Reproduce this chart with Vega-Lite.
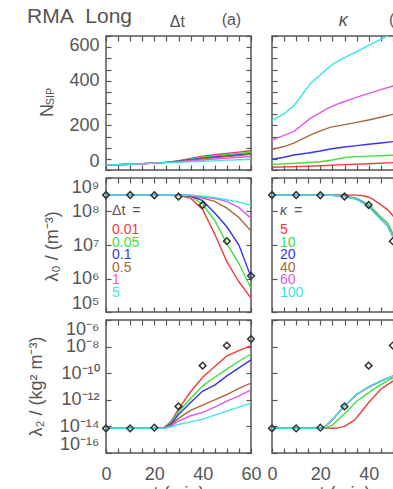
{
  "$schema": "https://vega.github.io/schema/vega-lite/v6.json",
  "background": "white",
  "padding": {"left": 26, "top": 4, "right": 0, "bottom": 0},
  "config": {
    "view": {"stroke": "#555", "strokeWidth": 1.5},
    "axis": {
      "labelFont": "Liberation Sans", "labelFontSize": 18, "labelColor": "#555",
      "titleFont": "Liberation Sans", "titleFontSize": 18, "titleColor": "#555", "titleFontWeight": "normal",
      "domain": false, "grid": false, "tickColor": "#555", "tickSize": -5, "tickWidth": 1.2,
      "labelOverlap": false
    },
    "axisX": {"labelFlush": false, "labelPadding": 17},
    "axisY": {"labelFlush": true, "labelFlushOffset": 0, "labelPadding": 12},
    "text": {"font": "Liberation Sans", "color": "#555"},
    "line": {"strokeWidth": 1.4}
  },
  "datasets": {
    "n_dt": [
      {"k":1,"t":0,"v":22},{"k":1,"t":10,"v":26},{"k":1,"t":20,"v":31},{"k":1,"t":25,"v":34},{"k":1,"t":30,"v":42},{"k":1,"t":35,"v":52},{"k":1,"t":40,"v":62},{"k":1,"t":45,"v":68},{"k":1,"t":50,"v":74},{"k":1,"t":55,"v":80},{"k":1,"t":60,"v":86},
      {"k":2,"t":0,"v":22},{"k":2,"t":10,"v":26},{"k":2,"t":20,"v":31},{"k":2,"t":25,"v":34},{"k":2,"t":30,"v":40},{"k":2,"t":35,"v":48},{"k":2,"t":40,"v":57},{"k":2,"t":45,"v":63},{"k":2,"t":50,"v":69},{"k":2,"t":55,"v":74},{"k":2,"t":60,"v":79},
      {"k":3,"t":0,"v":22},{"k":3,"t":10,"v":26},{"k":3,"t":20,"v":31},{"k":3,"t":25,"v":34},{"k":3,"t":30,"v":39},{"k":3,"t":35,"v":46},{"k":3,"t":40,"v":53},{"k":3,"t":45,"v":58},{"k":3,"t":50,"v":63},{"k":3,"t":55,"v":68},{"k":3,"t":60,"v":73},
      {"k":4,"t":0,"v":22},{"k":4,"t":10,"v":26},{"k":4,"t":20,"v":31},{"k":4,"t":25,"v":34},{"k":4,"t":30,"v":38},{"k":4,"t":35,"v":44},{"k":4,"t":40,"v":50},{"k":4,"t":45,"v":55},{"k":4,"t":50,"v":60},{"k":4,"t":55,"v":65},{"k":4,"t":60,"v":70},
      {"k":5,"t":0,"v":22},{"k":5,"t":10,"v":26},{"k":5,"t":20,"v":31},{"k":5,"t":25,"v":34},{"k":5,"t":30,"v":36},{"k":5,"t":35,"v":41},{"k":5,"t":40,"v":45},{"k":5,"t":45,"v":49},{"k":5,"t":50,"v":53},{"k":5,"t":55,"v":57},{"k":5,"t":60,"v":60},
      {"k":6,"t":0,"v":22},{"k":6,"t":10,"v":26},{"k":6,"t":20,"v":31},{"k":6,"t":25,"v":33},{"k":6,"t":30,"v":34},{"k":6,"t":35,"v":37},{"k":6,"t":40,"v":39},{"k":6,"t":45,"v":41},{"k":6,"t":50,"v":44},{"k":6,"t":55,"v":46},{"k":6,"t":60,"v":48}
    ],
    "n_k": [
      {"k":1,"t":0,"v":12},{"k":1,"t":10,"v":15},{"k":1,"t":20,"v":19},{"k":1,"t":30,"v":24},{"k":1,"t":40,"v":28},{"k":1,"t":50,"v":33},{"k":1,"t":60,"v":37},
      {"k":2,"t":0,"v":25},{"k":2,"t":10,"v":30},{"k":2,"t":20,"v":37},{"k":2,"t":25,"v":45},{"k":2,"t":30,"v":56},{"k":2,"t":35,"v":60},{"k":2,"t":40,"v":62},{"k":2,"t":45,"v":64},{"k":2,"t":50,"v":66},{"k":2,"t":60,"v":70},
      {"k":3,"t":0,"v":48},{"k":3,"t":5,"v":57},{"k":3,"t":9,"v":67},{"k":3,"t":15,"v":76},{"k":3,"t":20,"v":85},{"k":3,"t":24,"v":94},{"k":3,"t":30,"v":103},{"k":3,"t":35,"v":109},{"k":3,"t":40,"v":115},{"k":3,"t":45,"v":121},{"k":3,"t":50,"v":127},{"k":3,"t":55,"v":133},{"k":3,"t":60,"v":139},
      {"k":4,"t":0,"v":93},{"k":4,"t":5,"v":105},{"k":4,"t":9,"v":120},{"k":4,"t":16,"v":157},{"k":4,"t":20,"v":175},{"k":4,"t":24,"v":191},{"k":4,"t":30,"v":203},{"k":4,"t":35,"v":213},{"k":4,"t":40,"v":224},{"k":4,"t":45,"v":236},{"k":4,"t":50,"v":249},{"k":4,"t":55,"v":262},{"k":4,"t":60,"v":274},
      {"k":5,"t":0,"v":134},{"k":5,"t":5,"v":155},{"k":5,"t":9,"v":172},{"k":5,"t":16,"v":232},{"k":5,"t":20,"v":257},{"k":5,"t":23,"v":276},{"k":5,"t":28,"v":299},{"k":5,"t":35,"v":325},{"k":5,"t":40,"v":343},{"k":5,"t":45,"v":360},{"k":5,"t":50,"v":376},{"k":5,"t":55,"v":392},{"k":5,"t":60,"v":408},
      {"k":6,"t":0,"v":221},{"k":6,"t":5,"v":252},{"k":6,"t":9,"v":287},{"k":6,"t":16,"v":388},{"k":6,"t":20,"v":425},{"k":6,"t":23,"v":455},{"k":6,"t":26,"v":480},{"k":6,"t":30,"v":503},{"k":6,"t":35,"v":530},{"k":6,"t":40,"v":558},{"k":6,"t":45,"v":585},{"k":6,"t":48,"v":602},{"k":6,"t":55,"v":640},{"k":6,"t":60,"v":670}
    ],
    "l0_dt": [
      {"k":1,"t":0,"v":3.1e8},{"k":1,"t":10,"v":3.1e8},{"k":1,"t":20,"v":3.1e8},{"k":1,"t":30,"v":3.0e8},{"k":1,"t":35,"v":2.5e8},{"k":1,"t":40,"v":1.15e8},{"k":1,"t":45,"v":2.1e7},{"k":1,"t":50,"v":3.2e6},{"k":1,"t":55,"v":8e5},{"k":1,"t":60,"v":2.6e5},
      {"k":2,"t":0,"v":3.1e8},{"k":2,"t":10,"v":3.1e8},{"k":2,"t":20,"v":3.1e8},{"k":2,"t":30,"v":3.05e8},{"k":2,"t":35,"v":2.8e8},{"k":2,"t":40,"v":1.65e8},{"k":2,"t":45,"v":5.4e7},{"k":2,"t":50,"v":1.1e7},{"k":2,"t":55,"v":2.8e6},{"k":2,"t":60,"v":5.1e5},
      {"k":3,"t":0,"v":3.1e8},{"k":3,"t":10,"v":3.1e8},{"k":3,"t":20,"v":3.1e8},{"k":3,"t":30,"v":3.08e8},{"k":3,"t":35,"v":2.9e8},{"k":3,"t":40,"v":2.1e8},{"k":3,"t":45,"v":9e7},{"k":3,"t":50,"v":3.5e7},{"k":3,"t":55,"v":1e7},{"k":3,"t":60,"v":1.1e6},
      {"k":4,"t":0,"v":3.1e8},{"k":4,"t":10,"v":3.1e8},{"k":4,"t":20,"v":3.1e8},{"k":4,"t":30,"v":3.1e8},{"k":4,"t":35,"v":3.0e8},{"k":4,"t":40,"v":2.5e8},{"k":4,"t":45,"v":2.0e8},{"k":4,"t":50,"v":1.26e8},{"k":4,"t":55,"v":6.6e7},{"k":4,"t":60,"v":2.6e7},
      {"k":5,"t":0,"v":3.1e8},{"k":5,"t":10,"v":3.1e8},{"k":5,"t":20,"v":3.1e8},{"k":5,"t":30,"v":3.1e8},{"k":5,"t":35,"v":3.05e8},{"k":5,"t":40,"v":2.7e8},{"k":5,"t":45,"v":2.45e8},{"k":5,"t":50,"v":2.0e8},{"k":5,"t":55,"v":1.3e8},{"k":5,"t":60,"v":6.3e7},
      {"k":6,"t":0,"v":3.1e8},{"k":6,"t":10,"v":3.1e8},{"k":6,"t":20,"v":3.1e8},{"k":6,"t":30,"v":3.1e8},{"k":6,"t":35,"v":3.08e8},{"k":6,"t":40,"v":2.85e8},{"k":6,"t":45,"v":2.6e8},{"k":6,"t":50,"v":2.25e8},{"k":6,"t":55,"v":1.9e8},{"k":6,"t":60,"v":1.55e8}
    ],
    "l0_k": [
      {"k":1,"t":0,"v":3.1e8},{"k":1,"t":10,"v":3.1e8},{"k":1,"t":20,"v":3.1e8},{"k":1,"t":30,"v":3.1e8},{"k":1,"t":35,"v":3.08e8},{"k":1,"t":38,"v":2.95e8},{"k":1,"t":41,"v":2.5e8},{"k":1,"t":45,"v":1.6e8},{"k":1,"t":48,"v":1.1e8},{"k":1,"t":50,"v":7.5e7},{"k":1,"t":55,"v":1.8e7},{"k":1,"t":60,"v":3.5e6},
      {"k":2,"t":0,"v":3.1e8},{"k":2,"t":10,"v":3.1e8},{"k":2,"t":20,"v":3.1e8},{"k":2,"t":25,"v":3.08e8},{"k":2,"t":30,"v":2.9e8},{"k":2,"t":35,"v":2.5e8},{"k":2,"t":40,"v":1.6e8},{"k":2,"t":45,"v":7e7},{"k":2,"t":48,"v":4.4e7},{"k":2,"t":50,"v":2.2e7},{"k":2,"t":55,"v":3.5e6},{"k":2,"t":60,"v":6e5},
      {"k":3,"t":0,"v":3.1e8},{"k":3,"t":10,"v":3.1e8},{"k":3,"t":20,"v":3.1e8},{"k":3,"t":25,"v":3.05e8},{"k":3,"t":30,"v":2.85e8},{"k":3,"t":35,"v":2.35e8},{"k":3,"t":40,"v":1.45e8},{"k":3,"t":45,"v":6e7},{"k":3,"t":48,"v":3.6e7},{"k":3,"t":50,"v":1.8e7},{"k":3,"t":55,"v":3e6},{"k":3,"t":60,"v":5e5},
      {"k":4,"t":0,"v":3.1e8},{"k":4,"t":10,"v":3.1e8},{"k":4,"t":20,"v":3.1e8},{"k":4,"t":25,"v":3.05e8},{"k":4,"t":30,"v":2.85e8},{"k":4,"t":35,"v":2.35e8},{"k":4,"t":40,"v":1.45e8},{"k":4,"t":45,"v":6e7},{"k":4,"t":48,"v":3.6e7},{"k":4,"t":50,"v":1.8e7},{"k":4,"t":55,"v":3e6},{"k":4,"t":60,"v":5e5},
      {"k":5,"t":0,"v":3.1e8},{"k":5,"t":10,"v":3.1e8},{"k":5,"t":20,"v":3.1e8},{"k":5,"t":25,"v":3.05e8},{"k":5,"t":30,"v":2.85e8},{"k":5,"t":35,"v":2.35e8},{"k":5,"t":40,"v":1.45e8},{"k":5,"t":45,"v":6e7},{"k":5,"t":48,"v":3.6e7},{"k":5,"t":50,"v":1.8e7},{"k":5,"t":55,"v":3e6},{"k":5,"t":60,"v":5e5},
      {"k":6,"t":0,"v":3.1e8},{"k":6,"t":10,"v":3.1e8},{"k":6,"t":20,"v":3.1e8},{"k":6,"t":25,"v":3.04e8},{"k":6,"t":30,"v":2.82e8},{"k":6,"t":35,"v":2.3e8},{"k":6,"t":40,"v":1.4e8},{"k":6,"t":45,"v":5.8e7},{"k":6,"t":48,"v":3.5e7},{"k":6,"t":50,"v":1.75e7},{"k":6,"t":55,"v":2.9e6},{"k":6,"t":60,"v":4.8e5}
    ],
    "ref0": [
      {"t":0,"v":3.1e8},{"t":10,"v":3.1e8},{"t":20,"v":3.05e8},{"t":30,"v":2.8e8},{"t":40,"v":1.56e8},{"t":50,"v":1.3e7},{"t":60,"v":1.2e6}
    ],
    "l2_dt": [
      {"k":1,"t":0,"v":7.1e-15},{"k":1,"t":10,"v":7.1e-15},{"k":1,"t":20,"v":7.1e-15},{"k":1,"t":24,"v":8e-15},{"k":1,"t":27,"v":2.5e-14},{"k":1,"t":30,"v":2.0e-13},{"k":1,"t":35,"v":4.0e-12},{"k":1,"t":40,"v":5.0e-11},{"k":1,"t":45,"v":3.2e-10},{"k":1,"t":50,"v":2.0e-9},{"k":1,"t":55,"v":5.0e-9},{"k":1,"t":60,"v":1.2e-8},
      {"k":2,"t":0,"v":7.1e-15},{"k":2,"t":10,"v":7.1e-15},{"k":2,"t":20,"v":7.1e-15},{"k":2,"t":24,"v":7.6e-15},{"k":2,"t":27,"v":2.0e-14},{"k":2,"t":30,"v":1.26e-13},{"k":2,"t":35,"v":1.26e-12},{"k":2,"t":40,"v":1.12e-11},{"k":2,"t":45,"v":5.0e-11},{"k":2,"t":50,"v":2.0e-10},{"k":2,"t":55,"v":7.9e-10},{"k":2,"t":60,"v":2.75e-9},
      {"k":3,"t":0,"v":7.1e-15},{"k":3,"t":10,"v":7.1e-15},{"k":3,"t":20,"v":7.1e-15},{"k":3,"t":24,"v":7.4e-15},{"k":3,"t":27,"v":1.6e-14},{"k":3,"t":30,"v":7.9e-14},{"k":3,"t":35,"v":6.3e-13},{"k":3,"t":40,"v":4.5e-12},{"k":3,"t":45,"v":1.26e-11},{"k":3,"t":50,"v":6.3e-11},{"k":3,"t":55,"v":2.5e-10},{"k":3,"t":60,"v":1.0e-9},
      {"k":4,"t":0,"v":7.1e-15},{"k":4,"t":10,"v":7.1e-15},{"k":4,"t":20,"v":7.1e-15},{"k":4,"t":24,"v":7.3e-15},{"k":4,"t":27,"v":1.3e-14},{"k":4,"t":30,"v":4.0e-14},{"k":4,"t":35,"v":1.6e-13},{"k":4,"t":40,"v":4.0e-13},{"k":4,"t":45,"v":1.0e-12},{"k":4,"t":50,"v":2.5e-12},{"k":4,"t":55,"v":7.1e-12},{"k":4,"t":60,"v":1.8e-11},
      {"k":5,"t":0,"v":7.1e-15},{"k":5,"t":10,"v":7.1e-15},{"k":5,"t":20,"v":7.1e-15},{"k":5,"t":24,"v":7.2e-15},{"k":5,"t":27,"v":1.1e-14},{"k":5,"t":30,"v":2.5e-14},{"k":5,"t":35,"v":6.3e-14},{"k":5,"t":40,"v":1.12e-13},{"k":5,"t":45,"v":2.8e-13},{"k":5,"t":50,"v":7.9e-13},{"k":5,"t":55,"v":2.0e-12},{"k":5,"t":60,"v":5.5e-12},
      {"k":6,"t":0,"v":7.1e-15},{"k":6,"t":10,"v":7.1e-15},{"k":6,"t":20,"v":7.1e-15},{"k":6,"t":24,"v":7.1e-15},{"k":6,"t":27,"v":9e-15},{"k":6,"t":30,"v":1.4e-14},{"k":6,"t":35,"v":2.2e-14},{"k":6,"t":40,"v":3.5e-14},{"k":6,"t":45,"v":7.1e-14},{"k":6,"t":50,"v":1.4e-13},{"k":6,"t":55,"v":2.8e-13},{"k":6,"t":60,"v":5.5e-13}
    ],
    "l2_k": [
      {"k":1,"t":0,"v":7.1e-15},{"k":1,"t":10,"v":7.1e-15},{"k":1,"t":20,"v":7.1e-15},{"k":1,"t":27,"v":7.5e-15},{"k":1,"t":30,"v":1.0e-14},{"k":1,"t":34,"v":2.8e-14},{"k":1,"t":37,"v":1.26e-13},{"k":1,"t":40,"v":6.3e-13},{"k":1,"t":45,"v":6.3e-12},{"k":1,"t":50,"v":2.5e-11},{"k":1,"t":55,"v":7.1e-11},{"k":1,"t":60,"v":1.6e-10},
      {"k":2,"t":0,"v":7.1e-15},{"k":2,"t":10,"v":7.1e-15},{"k":2,"t":20,"v":7.1e-15},{"k":2,"t":22,"v":7.5e-15},{"k":2,"t":25,"v":1.26e-14},{"k":2,"t":30,"v":8.9e-14},{"k":2,"t":35,"v":7.9e-13},{"k":2,"t":40,"v":3.5e-12},{"k":2,"t":45,"v":1.4e-11},{"k":2,"t":50,"v":4.5e-11},{"k":2,"t":55,"v":1.1e-10},{"k":2,"t":60,"v":2.2e-10},
      {"k":3,"t":0,"v":7.1e-15},{"k":3,"t":10,"v":7.1e-15},{"k":3,"t":20,"v":7.1e-15},{"k":3,"t":22,"v":1.0e-14},{"k":3,"t":25,"v":3.2e-14},{"k":3,"t":30,"v":3.5e-13},{"k":3,"t":35,"v":2.5e-12},{"k":3,"t":40,"v":8.9e-12},{"k":3,"t":45,"v":2.5e-11},{"k":3,"t":50,"v":6.0e-11},{"k":3,"t":55,"v":1.26e-10},{"k":3,"t":60,"v":2.5e-10},
      {"k":4,"t":0,"v":7.1e-15},{"k":4,"t":10,"v":7.1e-15},{"k":4,"t":20,"v":7.1e-15},{"k":4,"t":22,"v":1.0e-14},{"k":4,"t":25,"v":3.2e-14},{"k":4,"t":30,"v":3.5e-13},{"k":4,"t":35,"v":2.5e-12},{"k":4,"t":40,"v":8.9e-12},{"k":4,"t":45,"v":2.5e-11},{"k":4,"t":50,"v":6.0e-11},{"k":4,"t":55,"v":1.26e-10},{"k":4,"t":60,"v":2.5e-10},
      {"k":5,"t":0,"v":7.1e-15},{"k":5,"t":10,"v":7.1e-15},{"k":5,"t":20,"v":7.1e-15},{"k":5,"t":22,"v":1.0e-14},{"k":5,"t":25,"v":3.2e-14},{"k":5,"t":30,"v":3.5e-13},{"k":5,"t":35,"v":2.5e-12},{"k":5,"t":40,"v":8.9e-12},{"k":5,"t":45,"v":2.5e-11},{"k":5,"t":50,"v":6.0e-11},{"k":5,"t":55,"v":1.26e-10},{"k":5,"t":60,"v":2.5e-10},
      {"k":6,"t":0,"v":7.1e-15},{"k":6,"t":10,"v":7.1e-15},{"k":6,"t":20,"v":7.1e-15},{"k":6,"t":22,"v":1.0e-14},{"k":6,"t":25,"v":3.3e-14},{"k":6,"t":30,"v":3.6e-13},{"k":6,"t":35,"v":2.6e-12},{"k":6,"t":40,"v":9.2e-12},{"k":6,"t":45,"v":2.6e-11},{"k":6,"t":50,"v":6.2e-11},{"k":6,"t":55,"v":1.3e-10},{"k":6,"t":60,"v":2.6e-10}
    ],
    "ref2": [
      {"t":0,"v":7.1e-15},{"t":10,"v":7.1e-15},{"t":20,"v":8e-15},{"t":30,"v":3.2e-13},{"t":40,"v":3.7e-10},{"t":50,"v":1.2e-8},{"t":60,"v":3.7e-8}
    ],
    "leg_dt": [
      {"k":1,"label":"0.01"},{"k":2,"label":"0.05"},{"k":3,"label":"0.1"},{"k":4,"label":"0.5"},{"k":5,"label":"1"},{"k":6,"label":"5"}
    ],
    "leg_k": [
      {"k":1,"label":"5"},{"k":2,"label":"10"},{"k":3,"label":"20"},{"k":4,"label":"40"},{"k":5,"label":"60"},{"k":6,"label":"100"}
    ]
  },
  "columns": 2,
  "bounds": "flush",
  "spacing": {"row": 8, "column": 21},
  "concat": [
    {
      "width": 145, "height": 134,
      "layer": [
        {
          "data": {"name": "n_dt"},
          "mark": {"type": "line", "clip": true},
          "encoding": {
            "x": {"field": "t", "type": "quantitative", "scale": {"domain": [0, 60], "nice": false},
                  "axis": {"values": [0,5,10,15,20,25,30,35,40,45,50,55,60], "labels": false, "title": null}},
            "y": {"field": "v", "type": "quantitative", "scale": {"domain": [0, 600], "nice": false, "zero": false},
                  "axis": {"values": [0,50,100,150,200,250,300,350,400,450,500,550,600],
                           "labelExpr": "datum.value % 200 == 0 ? datum.label : ''",
                           "title": "N", "titleAngle": 270, "titleX": -58.5, "titleY": 74,
                           "titleAlign": "center", "titleBaseline": "middle"}},
            "color": {"field": "k", "type": "nominal",
                      "scale": {"domain": [1,2,3,4,5,6], "range": ["#f03c3c", "#3ee03e", "#3434f0", "#a8683c", "#e05ae8", "#3ee4e4"]},
                      "legend": null}
          }
        },
        {
          "data": {"values": [{}]},
          "mark": {"type": "text", "text": "(a)", "fontSize": 16, "align": "center", "baseline": "alphabetic"},
          "encoding": {
            "x": {"datum": 51.9, "axis": null},
            "y": {"datum": 649,
                  "axis": {"orient": "left", "title": "SIP", "labels": false, "ticks": false,
                           "titleFontSize": 11, "titleAngle": 270, "titleX": -56, "titleY": 60,
                           "titleAlign": "center", "titleBaseline": "middle"}}
          }
        },
        {
          "data": {"values": [{}]},
          "mark": {"type": "text", "text": "Δt", "fontSize": 16, "align": "center", "baseline": "alphabetic"},
          "encoding": {"x": {"datum": 29.5, "axis": null}, "y": {"datum": 641.6, "axis": null}}
        },
        {
          "data": {"values": [{}]},
          "mark": {"type": "text", "text": "RMA\u00a0 Long", "fontSize": 21, "align": "left", "baseline": "alphabetic"},
          "encoding": {"x": {"datum": -32.7, "axis": null}, "y": {"datum": 659.6, "axis": null}}
        },
        {
          "data": {"values": [{}]},
          "mark": {"type": "point", "opacity": 0},
          "encoding": {
            "x": {"datum": 30, "axis": {"orient": "top", "values": [0,5,10,15,20,25,30,35,40,45,50,55,60], "labels": false, "title": null}},
            "y": {"datum": 300, "axis": {"orient": "right", "values": [0,50,100,150,200,250,300,350,400,450,500,550,600], "labels": false, "title": null}}
          }
        }
      ],
      "resolve": {"axis": {"x": "independent", "y": "independent"}}
    },
    {
      "width": 145, "height": 134,
      "layer": [
        {
          "data": {"name": "n_k"},
          "mark": {"type": "line", "clip": true},
          "encoding": {
            "x": {"field": "t", "type": "quantitative", "scale": {"domain": [0, 60], "nice": false},
                  "axis": {"values": [0,5,10,15,20,25,30,35,40,45,50,55,60], "labels": false, "title": null}},
            "y": {"field": "v", "type": "quantitative", "scale": {"domain": [0, 600], "nice": false, "zero": false},
                  "axis": {"values": [0,50,100,150,200,250,300,350,400,450,500,550,600], "labels": false, "title": null}},
            "color": {"field": "k", "type": "nominal",
                      "scale": {"domain": [1,2,3,4,5,6], "range": ["#f03c3c", "#3ee03e", "#3434f0", "#a8683c", "#e05ae8", "#3ee4e4"]},
                      "legend": null}
          }
        },
        {
          "data": {"values": [{}]},
          "mark": {"type": "text", "text": "κ", "fontSize": 18, "fontStyle": "italic", "align": "center", "baseline": "alphabetic"},
          "encoding": {"x": {"datum": 29.5, "axis": null}, "y": {"datum": 645, "axis": null}}
        },
        {
          "data": {"values": [{}]},
          "mark": {"type": "text", "text": "(b)", "fontSize": 16, "align": "center", "baseline": "alphabetic"},
          "encoding": {"x": {"datum": 52.5, "axis": null}, "y": {"datum": 649, "axis": null}}
        },
        {
          "data": {"values": [{}]},
          "mark": {"type": "point", "opacity": 0},
          "encoding": {
            "x": {"datum": 30, "axis": {"orient": "top", "values": [0,5,10,15,20,25,30,35,40,45,50,55,60], "labels": false, "title": null}},
            "y": {"datum": 300, "axis": {"orient": "right", "values": [0,50,100,150,200,250,300,350,400,450,500,550,600], "labels": false, "title": null}}
          }
        }
      ],
      "resolve": {"axis": {"x": "independent", "y": "independent"}}
    },
    {
      "width": 145, "height": 134,
      "layer": [
        {
          "data": {"name": "l0_dt"},
          "mark": {"type": "line", "clip": true},
          "encoding": {
            "x": {"field": "t", "type": "quantitative", "scale": {"domain": [0, 60], "nice": false},
                  "axis": {"values": [0,5,10,15,20,25,30,35,40,45,50,55,60], "labels": false, "title": null}},
            "y": {"field": "v", "type": "quantitative", "scale": {"type": "log", "domain": [1e5, 1e9], "nice": false},
                  "axis": {"values": [1e5,1e6,1e7,1e8,1e9],
                           "labelExpr": "datum.value==1e9?'10⁹':datum.value==1e8?'10⁸':datum.value==1e7?'10⁷':datum.value==1e6?'10⁶':'10⁵'",
                           "title": "λ₀ / (m⁻³)", "titleAngle": 270, "titleX": -53.5, "titleY": 68,
                           "titleAlign": "center", "titleBaseline": "middle"}},
            "color": {"field": "k", "type": "nominal",
                      "scale": {"domain": [1,2,3,4,5,6], "range": ["#f03c3c", "#3ee03e", "#3434f0", "#a8683c", "#e05ae8", "#3ee4e4"]},
                      "legend": null}
          }
        },
        {
          "data": {"name": "ref0"},
          "mark": {"type": "point", "shape": "diamond", "filled": false, "stroke": "#333", "strokeWidth": 1.5, "size": 45, "opacity": 1},
          "encoding": {
            "x": {"field": "t", "type": "quantitative", "axis": null},
            "y": {"field": "v", "type": "quantitative", "scale": {"type": "log", "domain": [1e5, 1e9], "nice": false}, "axis": null}
          }
        },
        {
          "data": {"values": [{}]},
          "mark": {"type": "text", "text": "Δt\u2002=", "fontSize": 14, "align": "left", "baseline": "middle"},
          "encoding": {"x": {"datum": 2.5, "axis": null}, "y": {"datum": -0.54, "scale": {"domain": [-3.16, 7.56], "reverse": true, "nice": false, "zero": false}, "axis": null}}
        },
        {
          "data": {"name": "leg_dt"},
          "mark": {"type": "text", "fontSize": 14, "align": "left", "baseline": "middle"},
          "encoding": {
            "x": {"datum": 2.5, "axis": null},
            "y": {"field": "k", "type": "quantitative", "scale": {"domain": [-3.16, 7.56], "reverse": true, "nice": false, "zero": false}, "axis": null},
            "text": {"field": "label"},
            "color": {"field": "k", "type": "nominal", "legend": null}
          }
        },
        {
          "data": {"values": [{}]},
          "mark": {"type": "point", "opacity": 0},
          "encoding": {
            "x": {"datum": 30, "axis": {"orient": "top", "values": [0,5,10,15,20,25,30,35,40,45,50,55,60], "labels": false, "title": null}},
            "y": {"datum": 1e7, "scale": {"type": "log", "domain": [1e5, 1e9], "nice": false},
                  "axis": {"orient": "right", "values": [1e5,1e6,1e7,1e8,1e9], "labels": false, "title": null}}
          }
        }
      ],
      "resolve": {"scale": {"y": "independent"}, "axis": {"x": "independent", "y": "independent"}}
    },
    {
      "width": 145, "height": 134,
      "layer": [
        {
          "data": {"name": "l0_k"},
          "mark": {"type": "line", "clip": true},
          "encoding": {
            "x": {"field": "t", "type": "quantitative", "scale": {"domain": [0, 60], "nice": false},
                  "axis": {"values": [0,5,10,15,20,25,30,35,40,45,50,55,60], "labels": false, "title": null}},
            "y": {"field": "v", "type": "quantitative", "scale": {"type": "log", "domain": [1e5, 1e9], "nice": false},
                  "axis": {"values": [1e5,1e6,1e7,1e8,1e9], "labels": false, "title": null}},
            "color": {"field": "k", "type": "nominal",
                      "scale": {"domain": [1,2,3,4,5,6], "range": ["#f03c3c", "#3ee03e", "#3434f0", "#a8683c", "#e05ae8", "#3ee4e4"]},
                      "legend": null}
          }
        },
        {
          "data": {"name": "ref0"},
          "mark": {"type": "point", "shape": "diamond", "filled": false, "stroke": "#333", "strokeWidth": 1.5, "size": 45, "opacity": 1},
          "encoding": {
            "x": {"field": "t", "type": "quantitative", "axis": null},
            "y": {"field": "v", "type": "quantitative", "scale": {"type": "log", "domain": [1e5, 1e9], "nice": false}, "axis": null}
          }
        },
        {
          "data": {"values": [{}]},
          "mark": {"type": "text", "text": "κ\u2002=", "fontSize": 14, "fontStyle": "italic", "align": "left", "baseline": "middle"},
          "encoding": {"x": {"datum": 3.3, "axis": null}, "y": {"datum": -0.54, "scale": {"domain": [-3.16, 7.56], "reverse": true, "nice": false, "zero": false}, "axis": null}}
        },
        {
          "data": {"name": "leg_k"},
          "mark": {"type": "text", "fontSize": 14, "align": "left", "baseline": "middle"},
          "encoding": {
            "x": {"datum": 3.3, "axis": null},
            "y": {"field": "k", "type": "quantitative", "scale": {"domain": [-3.16, 7.56], "reverse": true, "nice": false, "zero": false}, "axis": null},
            "text": {"field": "label"},
            "color": {"field": "k", "type": "nominal", "legend": null}
          }
        },
        {
          "data": {"values": [{}]},
          "mark": {"type": "point", "opacity": 0},
          "encoding": {
            "x": {"datum": 30, "axis": {"orient": "top", "values": [0,5,10,15,20,25,30,35,40,45,50,55,60], "labels": false, "title": null}},
            "y": {"datum": 1e7, "scale": {"type": "log", "domain": [1e5, 1e9], "nice": false},
                  "axis": {"orient": "right", "values": [1e5,1e6,1e7,1e8,1e9], "labels": false, "title": null}}
          }
        }
      ],
      "resolve": {"scale": {"y": "independent"}, "axis": {"x": "independent", "y": "independent"}}
    },
    {
      "width": 145, "height": 133,
      "layer": [
        {
          "data": {"name": "l2_dt"},
          "mark": {"type": "line", "clip": true},
          "encoding": {
            "x": {"field": "t", "type": "quantitative", "scale": {"domain": [0, 60], "nice": false},
                  "axis": {"values": [0,5,10,15,20,25,30,35,40,45,50,55,60],
                           "labelExpr": "datum.value % 20 == 0 ? datum.label : ''",
                           "title": "t (min)", "titlePadding": 1}},
            "y": {"field": "v", "type": "quantitative", "scale": {"type": "log", "domain": [1e-16, 1e-6], "nice": false},
                  "axis": {"values": [1e-16,1e-14,1e-12,1e-10,1e-8,1e-6],
                           "labelExpr": "datum.value==1e-6?'10⁻⁶':datum.value==1e-8?'10⁻⁸':datum.value==1e-10?'10⁻¹⁰':datum.value==1e-12?'10⁻¹²':datum.value==1e-14?'10⁻¹⁴':'10⁻¹⁶'",
                           "title": "λ₂ / (kg² m⁻³)", "titleAngle": 270, "titleX": -69.5, "titleY": 66,
                           "titleAlign": "center", "titleBaseline": "middle"}},
            "color": {"field": "k", "type": "nominal",
                      "scale": {"domain": [1,2,3,4,5,6], "range": ["#f03c3c", "#3ee03e", "#3434f0", "#a8683c", "#e05ae8", "#3ee4e4"]},
                      "legend": null}
          }
        },
        {
          "data": {"name": "ref2"},
          "mark": {"type": "point", "shape": "diamond", "filled": false, "stroke": "#333", "strokeWidth": 1.5, "size": 45, "opacity": 1},
          "encoding": {"x": {"field": "t", "type": "quantitative", "axis": null}, "y": {"field": "v", "type": "quantitative", "axis": null}}
        },
        {
          "data": {"values": [{}]},
          "mark": {"type": "point", "opacity": 0},
          "encoding": {
            "x": {"datum": 30, "axis": {"orient": "top", "values": [0,5,10,15,20,25,30,35,40,45,50,55,60], "labels": false, "title": null}},
            "y": {"datum": 1e-10, "axis": {"orient": "right", "values": [1e-16,1e-14,1e-12,1e-10,1e-8,1e-6], "labels": false, "title": null}}
          }
        }
      ],
      "resolve": {"axis": {"x": "independent", "y": "independent"}}
    },
    {
      "width": 145, "height": 133,
      "layer": [
        {
          "data": {"name": "l2_k"},
          "mark": {"type": "line", "clip": true},
          "encoding": {
            "x": {"field": "t", "type": "quantitative", "scale": {"domain": [0, 60], "nice": false},
                  "axis": {"values": [0,5,10,15,20,25,30,35,40,45,50,55,60],
                           "labelExpr": "datum.value % 20 == 0 ? datum.label : ''",
                           "title": "t (min)", "titlePadding": 1}},
            "y": {"field": "v", "type": "quantitative", "scale": {"type": "log", "domain": [1e-16, 1e-6], "nice": false},
                  "axis": {"values": [1e-16,1e-14,1e-12,1e-10,1e-8,1e-6], "labels": false, "title": null}},
            "color": {"field": "k", "type": "nominal",
                      "scale": {"domain": [1,2,3,4,5,6], "range": ["#f03c3c", "#3ee03e", "#3434f0", "#a8683c", "#e05ae8", "#3ee4e4"]},
                      "legend": null}
          }
        },
        {
          "data": {"name": "ref2"},
          "mark": {"type": "point", "shape": "diamond", "filled": false, "stroke": "#333", "strokeWidth": 1.5, "size": 45, "opacity": 1},
          "encoding": {"x": {"field": "t", "type": "quantitative", "axis": null}, "y": {"field": "v", "type": "quantitative", "axis": null}}
        },
        {
          "data": {"values": [{}]},
          "mark": {"type": "point", "opacity": 0},
          "encoding": {
            "x": {"datum": 30, "axis": {"orient": "top", "values": [0,5,10,15,20,25,30,35,40,45,50,55,60], "labels": false, "title": null}},
            "y": {"datum": 1e-10, "axis": {"orient": "right", "values": [1e-16,1e-14,1e-12,1e-10,1e-8,1e-6], "labels": false, "title": null}}
          }
        }
      ],
      "resolve": {"axis": {"x": "independent", "y": "independent"}}
    }
  ]
}
